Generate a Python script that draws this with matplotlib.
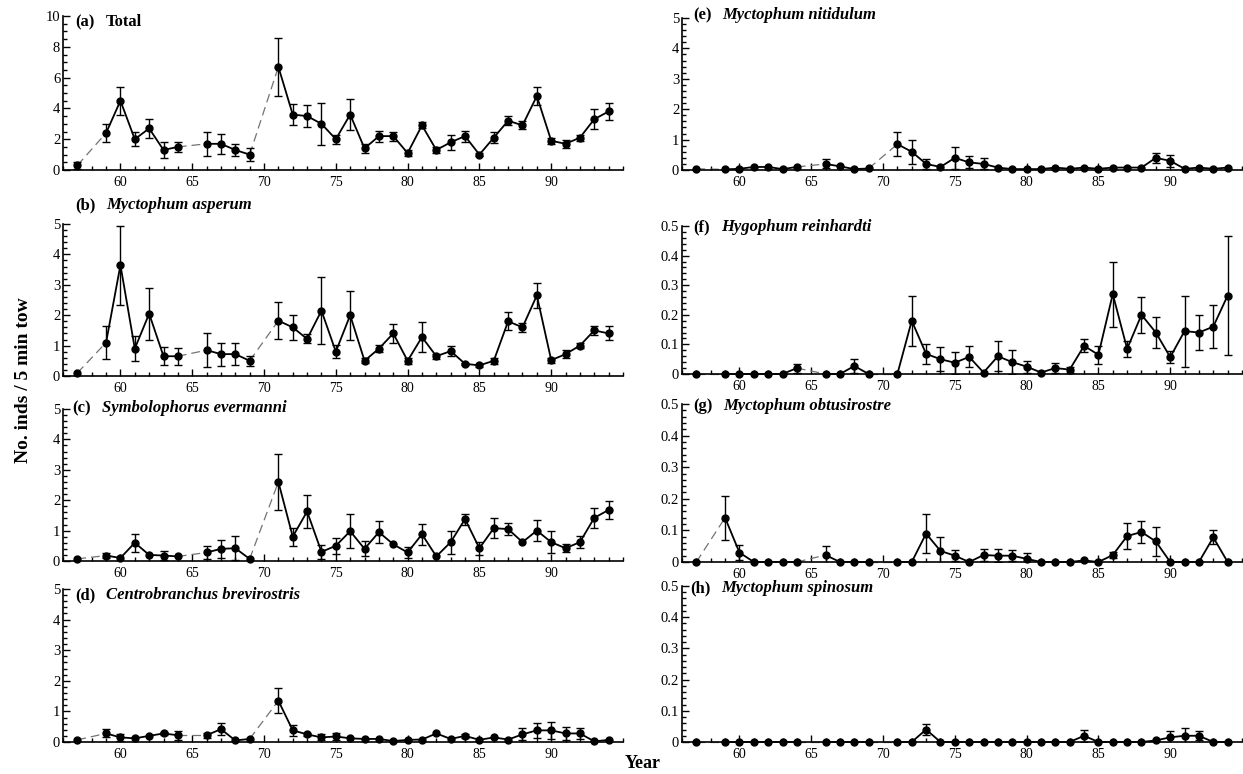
import numpy as np
import matplotlib
matplotlib.use('Agg')
import matplotlib.pyplot as plt
from matplotlib.ticker import MultipleLocator, FixedLocator, FuncFormatter

plt.rcParams['font.family'] = ['Liberation Serif', 'DejaVu Serif']

# survey years (no tows in 58, 65, 70)
years = [57, 59, 60, 61, 62, 63, 64, 66, 67, 68, 69, 71, 72, 73, 74, 75, 76, 77,
         78, 79, 80, 81, 82, 83, 84, 85, 86, 87, 88, 89, 90, 91, 92, 93, 94]
year_ticks = [60, 65, 70, 75, 80, 85, 90]

total = [0.3, 2.4, 4.5, 2.0, 2.7, 1.3, 1.5, 1.7, 1.7, 1.3, 1.0, 6.7, 3.6, 3.5, 3.0, 2.0, 3.6, 1.4,
         2.2, 2.2, 1.1, 2.9, 1.3, 1.8, 2.2, 1.0, 2.1, 3.2, 2.9, 4.8, 1.9, 1.7, 2.1, 3.3, 3.8]
total_err = [0.25, 0.6, 0.9, 0.45, 0.6, 0.5, 0.3, 0.8, 0.65, 0.4, 0.4, 1.9, 0.7, 0.7, 1.35, 0.3, 1.0, 0.3,
             0.35, 0.3, 0.2, 0.2, 0.2, 0.5, 0.35, 0.1, 0.35, 0.3, 0.25, 0.6, 0.2, 0.25, 0.2, 0.65, 0.55]

asperum = [0.1, 1.1, 3.65, 0.9, 2.05, 0.65, 0.65, 0.85, 0.72, 0.72, 0.5, 1.82, 1.6, 1.22, 2.15, 0.8, 2.0, 0.5,
           0.9, 1.4, 0.5, 1.28, 0.65, 0.82, 0.4, 0.35, 0.5, 1.8, 1.6, 2.65, 0.52, 0.72, 1.0, 1.5, 1.4]
asperum_err = [0, 0.55, 1.3, 0.4, 0.85, 0.3, 0.28, 0.57, 0.38, 0.35, 0.17, 0.6, 0.4, 0.15, 1.1, 0.22, 0.8, 0.08,
               0.12, 0.3, 0.1, 0.5, 0.08, 0.17, 0.04, 0.04, 0.1, 0.3, 0.15, 0.4, 0.08, 0.13, 0.07, 0.15, 0.23]

evermanni = [0.07, 0.18, 0.1, 0.6, 0.2, 0.18, 0.15, 0.28, 0.4, 0.42, 0.07, 2.6, 0.8, 1.63, 0.3, 0.5, 0.98, 0.4,
             0.95, 0.55, 0.28, 0.88, 0.15, 0.62, 1.38, 0.42, 1.08, 1.05, 0.62, 1.0, 0.62, 0.42, 0.62, 1.42, 1.68]
evermanni_err = [0, 0.08, 0, 0.3, 0, 0.15, 0, 0.2, 0.3, 0.4, 0, 0.92, 0.3, 0.55, 0.22, 0.27, 0.56, 0.25,
                 0.35, 0, 0.17, 0.35, 0, 0.38, 0.18, 0.22, 0.33, 0.2, 0, 0.35, 0.37, 0.14, 0.2, 0.32, 0.3]

brevirostris = [0.07, 0.28, 0.15, 0.12, 0.2, 0.28, 0.22, 0.22, 0.42, 0.05, 0.1, 1.35, 0.38, 0.25, 0.15, 0.18, 0.12, 0.1,
                0.1, 0.03, 0.07, 0.08, 0.28, 0.1, 0.2, 0.07, 0.15, 0.08, 0.25, 0.38, 0.38, 0.28, 0.28, 0.02, 0.07]
brevirostris_err = [0, 0.13, 0.11, 0, 0, 0.05, 0.15, 0.08, 0.2, 0, 0, 0.4, 0.17, 0.05, 0.1, 0.11, 0, 0,
                    0, 0, 0, 0, 0, 0, 0.07, 0, 0, 0, 0.2, 0.24, 0.28, 0.2, 0.17, 0, 0]

nitidulum = [0.04, 0.02, 0.04, 0.1, 0.1, 0.03, 0.1, 0.2, 0.12, 0.03, 0.05, 0.85, 0.6, 0.2, 0.1, 0.4, 0.25, 0.2,
             0.08, 0.03, 0.03, 0.03, 0.08, 0.04, 0.08, 0.04, 0.08, 0.08, 0.08, 0.4, 0.3, 0.04, 0.08, 0.04, 0.08]
nitidulum_err = [0, 0, 0, 0, 0, 0, 0, 0.15, 0, 0, 0, 0.4, 0.4, 0.17, 0, 0.36, 0.2, 0.18,
                 0, 0, 0, 0, 0, 0, 0, 0, 0, 0, 0, 0.17, 0.2, 0, 0, 0, 0]

reinhardti = [0, 0, 0, 0, 0, 0, 0.02, 0, 0, 0.027, 0, 0, 0.18, 0.068, 0.05, 0.038, 0.058, 0.005,
              0.06, 0.04, 0.025, 0.005, 0.02, 0.015, 0.095, 0.065, 0.27, 0.085, 0.2, 0.14, 0.057, 0.145, 0.14, 0.16, 0.265]
reinhardti_err = [0, 0, 0, 0, 0, 0, 0.015, 0, 0, 0.025, 0, 0, 0.085, 0.033, 0.04, 0.037, 0.035, 0,
                  0.05, 0.04, 0.02, 0, 0.017, 0.01, 0.022, 0.03, 0.11, 0.027, 0.06, 0.053, 0.02, 0.12, 0.058, 0.073, 0.2]

obtusirostre = [0, 0.14, 0.03, 0, 0, 0, 0, 0.022, 0, 0, 0, 0, 0, 0.09, 0.035, 0.02, 0, 0.022,
                0.02, 0.02, 0.01, 0, 0, 0, 0.005, 0, 0.022, 0.082, 0.095, 0.065, 0, 0, 0, 0.078, 0]
obtusirostre_err = [0, 0.07, 0.025, 0, 0, 0, 0, 0.03, 0, 0, 0, 0, 0, 0.063, 0.043, 0.017, 0, 0.02,
                    0.02, 0.017, 0.02, 0, 0, 0, 0, 0, 0.01, 0.04, 0.035, 0.045, 0, 0, 0, 0.022, 0]

spinosum = [0, 0, 0, 0, 0, 0, 0, 0, 0, 0, 0, 0, 0, 0.04, 0, 0, 0, 0,
            0, 0, 0, 0, 0, 0, 0.02, 0, 0, 0, 0, 0.005, 0.015, 0.02, 0.02, 0, 0]
spinosum_err = [0, 0, 0, 0, 0, 0, 0, 0, 0, 0, 0, 0, 0, 0.017, 0, 0, 0, 0,
                0, 0, 0, 0, 0, 0, 0.02, 0, 0, 0, 0, 0, 0.02, 0.025, 0.015, 0, 0]

labels = ['(a)', '(b)', '(c)', '(d)', '(e)', '(f)', '(g)', '(h)']
names = ['Total', 'Myctophum asperum', 'Symbolophorus evermanni', 'Centrobranchus brevirostris',
         'Myctophum nitidulum', 'Hygophum reinhardti', 'Myctophum obtusirostre', 'Myctophum spinosum']
series = [total, asperum, evermanni, brevirostris, nitidulum, reinhardti, obtusirostre, spinosum]
errors = [total_err, asperum_err, evermanni_err, brevirostris_err,
          nitidulum_err, reinhardti_err, obtusirostre_err, spinosum_err]

# layout in pixels: (left, top, right, bottom), title anchor, y scale
W, H = 1243, 774
boxes = [(63, 16, 623, 170), (63, 224, 623, 376), (63, 409, 623, 561), (63, 589, 623, 742),
         (682, 18, 1242, 170), (682, 226, 1242, 374), (682, 404, 1242, 562), (682, 586, 1242, 742)]
title_pos = [(75, 22), (75, 205), (72, 408), (75, 595), (693, 15), (693, 227), (693, 406), (690, 588)]
yscale = [(10, 2, 0.5), (5, 1, 0.2), (5, 1, 0.2), (5, 1, 0.2),
          (5, 1, 0.2), (0.5, 0.1, 0.02), (0.5, 0.1, 0.02), (0.5, 0.1, 0.02)]

fig = plt.figure(figsize=(12.43, 7.74), dpi=100)


def draw(ax, vals, errs):
    x = np.array(years)
    y = np.array(vals, dtype=float)
    e = np.array(errs, dtype=float)
    breaks = np.where(np.diff(x) > 1)[0]
    starts = np.r_[0, breaks + 1]
    ends = np.r_[breaks + 1, len(x)]
    for s, t in zip(starts, ends):
        ax.plot(x[s:t], y[s:t], color='black', lw=1.3, zorder=3, clip_on=False)
    for b in breaks:
        ax.plot(x[b:b + 2], y[b:b + 2], color='0.45', lw=0.9, dashes=(7, 4), zorder=2, clip_on=False)
    m = e > 0
    ax.errorbar(x[m], y[m], yerr=e[m], fmt='none', ecolor='black', elinewidth=1.0,
                capsize=3, capthick=1.0, zorder=3)
    ax.plot(x, y, 'o', color='black', ms=5, zorder=4, clip_on=False)


for i in range(8):
    l, t, r, b = boxes[i]
    ax = fig.add_axes([l / W, 1 - b / H, (r - l) / W, (b - t) / H])
    draw(ax, series[i], errors[i])

    ymax, major, minor = yscale[i]
    ax.set_xlim(56, 95)
    ax.set_ylim(0, ymax)
    ax.spines[['top', 'right']].set_visible(False)
    for sp in ('left', 'bottom'):
        ax.spines[sp].set_linewidth(1.2)
    ax.xaxis.set_major_locator(FixedLocator(year_ticks))
    ax.xaxis.set_minor_locator(MultipleLocator(1))
    ax.yaxis.set_major_locator(MultipleLocator(major))
    ax.yaxis.set_minor_locator(MultipleLocator(minor))
    ax.yaxis.set_major_formatter(FuncFormatter(lambda v, p: f'{v:g}'))
    ax.tick_params(which='both', direction='in', width=1.0, labelsize=10.5)
    ax.tick_params(which='major', length=5)
    ax.tick_params(which='minor', length=3)
    ax.tick_params(axis='x', pad=4, labelsize=10)
    ax.tick_params(axis='y', pad=2)

    tx, ty = title_pos[i]
    lab = fig.text(tx / W, 1 - ty / H, labels[i], fontsize=12, fontweight='bold',
                   ha='left', va='center')
    style = 'normal' if names[i] == 'Total' else 'italic'
    ax.annotate(names[i], xy=(1, 0.5), xycoords=lab, xytext=(8, 0), textcoords='offset points',
                fontsize=12, fontweight='bold', fontstyle=style, ha='left', va='center')

fig.text(0.019, 1 - 380 / H, 'No. inds / 5 min tow', rotation=90, fontsize=14,
         fontweight='bold', ha='center', va='center')
fig.text(643 / W, 1 - 764 / H, 'Year', fontsize=13, fontweight='bold', ha='center', va='center')

fig.savefig('out.png', dpi=100)
